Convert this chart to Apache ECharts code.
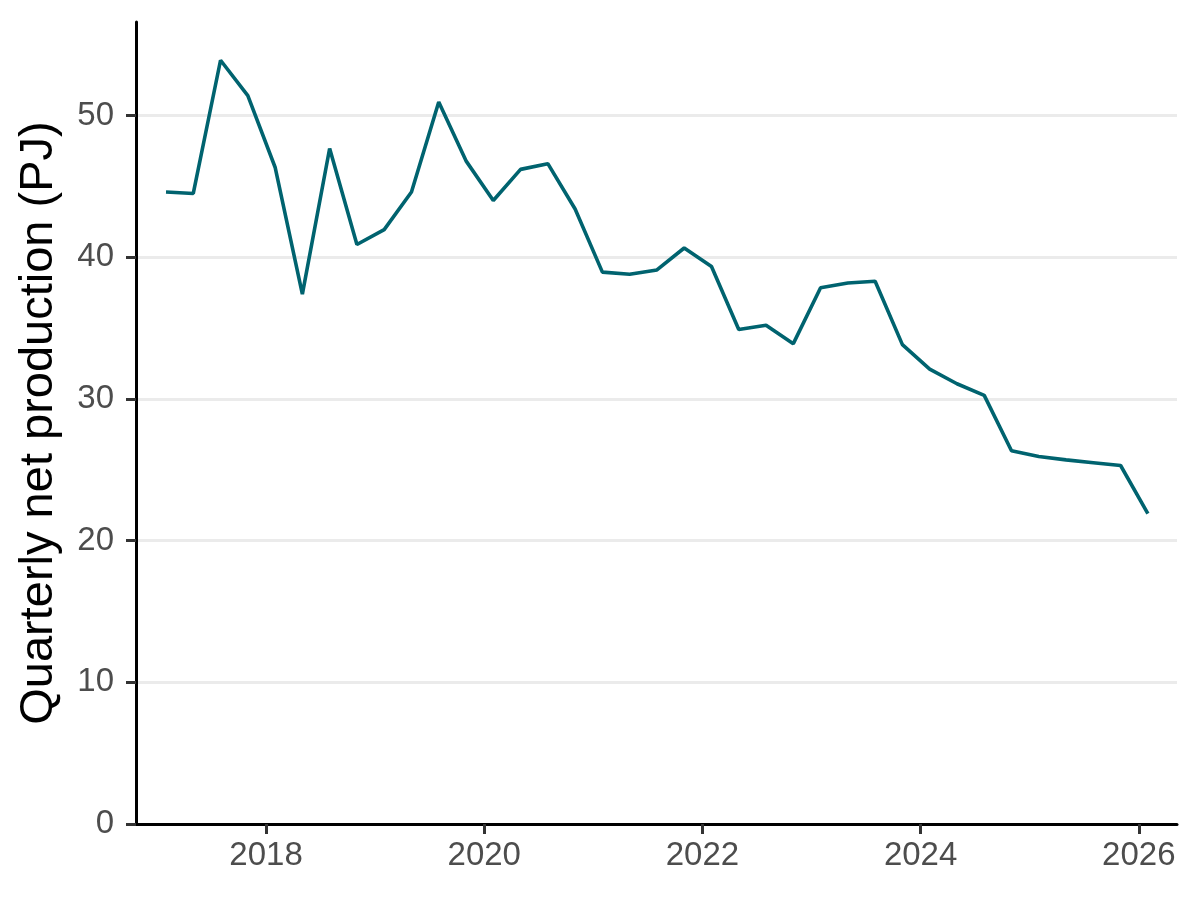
<!DOCTYPE html>
<html>
<head>
<meta charset="utf-8">
<script src="https://cdn.jsdelivr.net/npm/echarts@6/dist/echarts.min.js"></script>
<style>
html,body{margin:0;padding:0;background:#fff;}
#chart{width:1200px;height:900px;}
</style>
</head>
<body>
<div id="chart"></div>
<script>
// Quarter positions in decimal years
const quarters = [
  2017.083, 2017.333, 2017.583, 2017.833,
  2018.083, 2018.333, 2018.583, 2018.833,
  2019.083, 2019.333, 2019.583, 2019.833,
  2020.083, 2020.333, 2020.583, 2020.833,
  2021.083, 2021.333, 2021.583, 2021.833,
  2022.083, 2022.333, 2022.583, 2022.833,
  2023.083, 2023.333, 2023.583, 2023.833,
  2024.083, 2024.333, 2024.583, 2024.833,
  2025.083, 2025.333, 2025.583, 2025.833,
  2026.083
];
const production = [
  44.6, 44.5, 53.9, 51.4,
  46.35, 37.4, 47.67, 40.9,
  41.95, 44.6, 50.95, 46.8,
  44.0, 46.2, 46.6, 43.4,
  38.95, 38.8, 39.1, 40.65,
  39.35, 34.9, 35.2, 33.9,
  37.85, 38.18, 38.3, 33.83,
  32.1, 31.07, 30.25, 26.34,
  25.94, 25.7, 25.5, 25.3,
  21.9
];
const yearTicks = [2018, 2020, 2022, 2024, 2026];
const yTicks = [0, 10, 20, 30, 40, 50];

const chart = echarts.init(document.getElementById('chart'), null, {renderer: 'canvas'});
const FONT = 'Liberation Sans, Arial, sans-serif';
chart.setOption({
  animation: false,
  backgroundColor: '#ffffff',
  grid: {left: 136, right: 23, top: 22, bottom: 76, containLabel: false},
  xAxis: {
    type: 'value',
    min: 2016.808,
    max: 2026.35,
    axisLine: {show: true, lineStyle: {color: '#000', width: 3}},
    axisTick: {show: true, length: 10, lineStyle: {color: '#333', width: 3}, customValues: yearTicks},
    axisLabel: {customValues: yearTicks, color: '#4D4D4D', fontSize: 33, fontFamily: FONT, margin: 15,
      formatter: v => String(Math.round(v))},
    splitLine: {show: false}
  },
  yAxis: {
    type: 'value',
    min: 0,
    max: 56.6,
    name: 'Quarterly net production (PJ)',
    nameLocation: 'middle',
    nameGap: 73,
    nameTextStyle: {color: '#000', fontSize: 47, fontFamily: FONT},
    axisLine: {show: true, lineStyle: {color: '#000', width: 3}},
    axisTick: {show: true, length: 10, lineStyle: {color: '#333', width: 3}, customValues: yTicks},
    axisLabel: {customValues: yTicks, color: '#4D4D4D', fontSize: 33, fontFamily: FONT, margin: 22},
    splitLine: {show: true, lineStyle: {color: '#EBEBEB', width: 3}}
  },
  series: [{
    type: 'line',
    data: quarters.map((q, i) => [q, production[i]]),
    symbol: 'none',
    lineStyle: {color: '#00636F', width: 3.6},
    z: 3
  }]
});
</script>
</body>
</html>
